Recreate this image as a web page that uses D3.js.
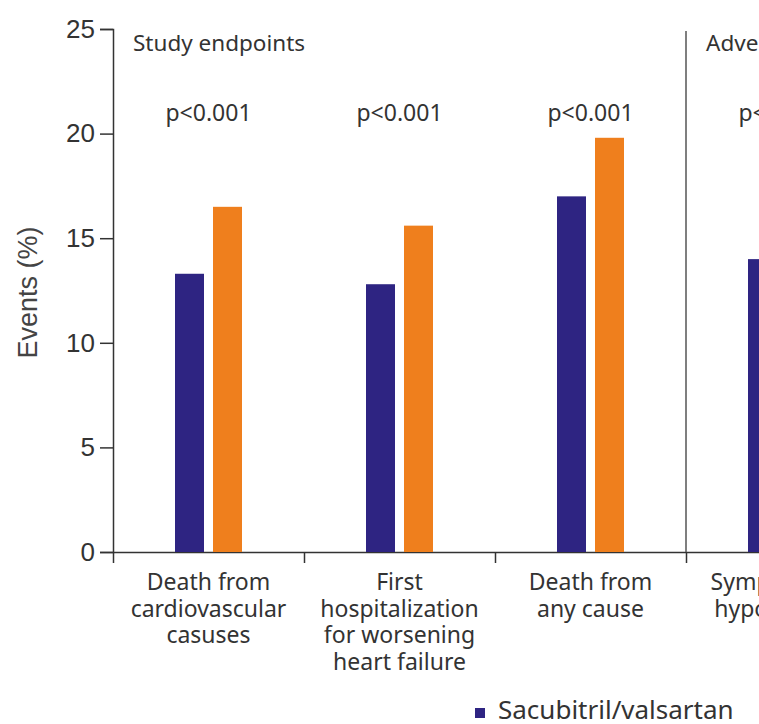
<!DOCTYPE html>
<html>
<head>
<meta charset="utf-8">
<script src="https://cdn.jsdelivr.net/npm/d3@7"></script>
<style>
  body { margin: 0; background: #fff; }
  svg { display: block; }
</style>
</head>
<body>
<div id="chart"></div>
<script>
// Data
const categories = [
    ["Death from", "cardiovascular", "casuses"],
    ["First", "hospitalization", "for worsening", "heart failure"],
    ["Death from", "any cause"],
    ["Symptomatic", "hypotension"]
];
const seriesNames = ["Sacubitril/valsartan", "Enalapril"];
const sacubitril = [13.3, 12.8, 17.0, 14.0];
const enalapril = [16.5, 15.6, 19.8, 9.2];
const pValues = ["p<0.001", "p<0.001", "p<0.001", "p<0.001"];
const yTicks = [0, 5, 10, 15, 20, 25];
const groupTitles = [{ at: 0, text: "Study endpoints" }, { at: 3, text: "Adverse events" }];

const width = 759, height = 724;
const margin = { top: 29, left: 113, bottom: 172 };
const bandW = 191;
const colors = ["#2e2482", "#ef7f1d"];

const svg = d3.select("#chart").append("svg")
    .attr("width", width)
    .attr("height", height);

const y = d3.scaleLinear().domain([0, 25]).range([height - margin.bottom, margin.top]);
const idx = d3.range(categories.length);
const x = d3.scaleBand().domain(idx).range([margin.left, margin.left + bandW * categories.length]);
const xEdge = d3.scaleLinear().domain([0, categories.length]).range(x.range());
const xInner = d3.scaleBand().domain([0, 1]).range([62, 129]).paddingInner(0.237);

// y axis
const yAxis = svg.append("g")
    .attr("transform", `translate(${margin.left},0)`)
    .call(d3.axisLeft(y).tickValues(yTicks).tickSize(13).tickPadding(5));
yAxis.select(".domain").attr("stroke", "#333").attr("stroke-width", 1.5);
yAxis.selectAll(".tick line").attr("stroke", "#333").attr("stroke-width", 1.5);
yAxis.selectAll(".tick text")
    .attr("font-family", "Liberation Sans, Arial, sans-serif")
    .attr("font-size", 26)
    .attr("fill", "#333");

svg.append("text")
    .attr("transform", `translate(37,${(y(0) + y(25)) / 2 + 2}) rotate(-90)`)
    .attr("text-anchor", "middle")
    .attr("font-family", "Liberation Sans, Arial, sans-serif")
    .attr("font-size", 27)
    .attr("fill", "#444")
    .text("Events (%)");

// x axis with ticks at category boundaries
const xAxis = svg.append("g")
    .attr("transform", `translate(0,${y(0)})`)
    .call(d3.axisBottom(xEdge).tickValues(d3.range(categories.length + 1)).tickFormat("").tickSize(11).tickSizeOuter(0));
xAxis.select(".domain").attr("stroke", "#333").attr("stroke-width", 1.5);
xAxis.selectAll(".tick line").attr("stroke", "#333").attr("stroke-width", 1.5);

// separator between study endpoints and adverse events
svg.append("line")
    .attr("x1", xEdge(3)).attr("x2", xEdge(3))
    .attr("y1", y(25) + 2).attr("y2", y(0))
    .attr("stroke", "#555")
    .attr("stroke-width", 1.5);

// bars
const groups = svg.append("g").selectAll("g")
    .data(idx)
    .join("g")
    .attr("transform", i => `translate(${x(i)},0)`);

groups.selectAll("rect")
    .data(i => [sacubitril[i], enalapril[i]])
    .join("rect")
    .attr("x", (d, j) => xInner(j))
    .attr("width", xInner.bandwidth())
    .attr("y", d => y(d))
    .attr("height", d => y(0) - y(d))
    .attr("fill", (d, j) => colors[j]);

// p-values
groups.append("text")
    .attr("x", x.bandwidth() / 2)
    .attr("y", 121)
    .attr("text-anchor", "middle")
    .attr("font-family", "Noto Sans, sans-serif")
    .attr("font-size", 23)
    .attr("fill", "#333")
    .text(i => pValues[i]);

// category labels
groups.append("text")
    .attr("text-anchor", "middle")
    .attr("font-family", "Noto Sans, sans-serif")
    .attr("font-size", 23)
    .attr("fill", "#333")
    .selectAll("tspan")
    .data(i => categories[i])
    .join("tspan")
    .attr("x", x.bandwidth() / 2)
    .attr("y", (d, k) => 590 + k * 26.5)
    .text(d => d);

// group titles
svg.append("g").selectAll("text")
    .data(groupTitles)
    .join("text")
    .attr("x", d => xEdge(d.at) + 20)
    .attr("y", 51)
    .attr("font-family", "Noto Sans, sans-serif")
    .attr("font-size", 22.5)
    .attr("fill", "#333")
    .text(d => d.text);

// legend
const legend = svg.append("g").attr("transform", "translate(475,708)");
legend.append("rect")
    .attr("width", 10).attr("height", 10)
    .attr("fill", colors[0]);
legend.append("text")
    .attr("x", 23)
    .attr("y", 11)
    .attr("font-family", "Noto Sans, sans-serif")
    .attr("font-size", 26)
    .attr("fill", "#333")
    .text(seriesNames[0]);
</script>
</body>
</html>
